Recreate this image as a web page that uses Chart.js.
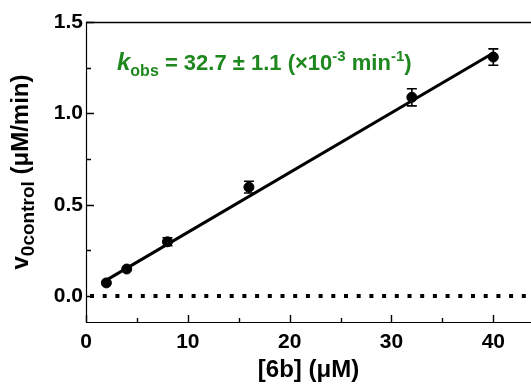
<!DOCTYPE html>
<html>
<head>
<meta charset="utf-8">
<script src="https://cdn.jsdelivr.net/npm/chart.js@4"></script>
<style>
html,body{margin:0;padding:0;background:#fff;}
#wrap{width:531px;height:389px;position:relative;}
</style>
</head>
<body>
<div id="wrap"><canvas id="c" width="531" height="389"></canvas></div>
<script>
// Data
const concentrations = [2, 4, 8, 16, 32, 40];          // [6b] (µM)
const rates = [0.072, 0.148, 0.297, 0.596, 1.088, 1.308]; // v0 control (µM/min)
const rateErrors = [0.012, 0.015, 0.022, 0.032, 0.047, 0.045];
const fitX = [2, 40];
const fitY = [0.087, 1.330];
const zeroLineX = [0, 43.7];
const zeroLineY = [0, 0];
const xTicks = [0, 10, 20, 30, 40];
const xMinorTicks = [5, 15, 25, 35];
const yTicks = [0.0, 0.5, 1.0, 1.5];
const yMinorTicks = [0.25, 0.75, 1.25];
const xTitle = "[6b] (μM)";
const yTitleMain = "v";
const yTitleSub = "0control";
const yTitleRest = " (μM/min)";

const FONT = '"Liberation Sans", Arial, sans-serif';
const GREEN = 'rgb(30,135,30)';

const annotPlugin = {
  id: 'annot',
  afterDatasetsDraw(chart) {
    const ctx = chart.ctx;
    const xs = chart.scales.x, ys = chart.scales.y;
    ctx.save();
    ctx.strokeStyle = '#000';
    ctx.lineWidth = 1.6;
    for (let i = 0; i < concentrations.length; i++) {
      const px = xs.getPixelForValue(concentrations[i]);
      const pt = ys.getPixelForValue(rates[i] + rateErrors[i]);
      const pb = ys.getPixelForValue(rates[i] - rateErrors[i]);
      ctx.beginPath();
      ctx.moveTo(px, pt); ctx.lineTo(px, pb);
      if (pb - pt > 7) {
        ctx.moveTo(px - 5, pt); ctx.lineTo(px + 5, pt);
        ctx.moveTo(px - 5, pb); ctx.lineTo(px + 5, pb);
      }
      ctx.stroke();
    }
    ctx.restore();
  },
  afterDraw(chart) {
    const ctx = chart.ctx;
    const xs = chart.scales.x, ys = chart.scales.y;
    const ca = chart.chartArea;
    ctx.save();
    ctx.strokeStyle = '#000';
    ctx.lineWidth = 1.2;
    ctx.beginPath();
    ctx.moveTo(ca.left + 0.5, ca.top); ctx.lineTo(ca.left + 0.5, ca.bottom + 0.5);
    ctx.lineTo(ca.right, ca.bottom + 0.5);
    ctx.stroke();
    ctx.lineWidth = 1.6;
    ctx.beginPath();
    ctx.moveTo(ca.left, ca.top + 0.5); ctx.lineTo(ca.right, ca.top + 0.5);
    ctx.stroke();
    ctx.lineWidth = 1.4;
    ctx.beginPath();
    xTicks.forEach(v => { const p = Math.round(xs.getPixelForValue(v)) + 0.5; ctx.moveTo(p, ca.bottom); ctx.lineTo(p, ca.bottom - 7); });
    xMinorTicks.forEach(v => { const p = Math.round(xs.getPixelForValue(v)) + 0.5; ctx.moveTo(p, ca.bottom); ctx.lineTo(p, ca.bottom - 4); });
    yTicks.forEach(v => { const p = Math.round(ys.getPixelForValue(v)) + 0.5; ctx.moveTo(ca.left, p); ctx.lineTo(ca.left + 8, p); });
    yMinorTicks.forEach(v => { const p = Math.round(ys.getPixelForValue(v)) + 0.5; ctx.moveTo(ca.left, p); ctx.lineTo(ca.left + 5, p); });
    ctx.stroke();

    // x title
    ctx.fillStyle = '#000';
    ctx.font = 'bold 24px ' + FONT;
    ctx.textAlign = 'center';
    ctx.textBaseline = 'alphabetic';
    ctx.fillText(xTitle, (ca.left + ca.right) / 2, 377);

    // y title (rotated with subscript)
    const big = 'bold 24px ' + FONT, small = 'bold 19px ' + FONT;
    ctx.font = big; const w1 = ctx.measureText(yTitleMain).width;
    ctx.font = small; const w2 = ctx.measureText(yTitleSub).width;
    ctx.font = big; const w3 = ctx.measureText(yTitleRest).width;
    const total = w1 + w2 + w3;
    ctx.translate(28, 172);
    ctx.rotate(-Math.PI / 2);
    ctx.textAlign = 'left';
    let x0 = -total / 2;
    ctx.font = big; ctx.fillText(yTitleMain, x0, 0); x0 += w1;
    ctx.font = small; ctx.fillText(yTitleSub, x0, 6); x0 += w2;
    ctx.font = big; ctx.fillText(yTitleRest, x0, 0);
    ctx.setTransform(1, 0, 0, 1, 0, 0);

    // annotation
    ctx.fillStyle = GREEN;
    const segs = [
      ['k', 'italic bold 24px ' + FONT, 0],
      ['obs', 'bold 16px ' + FONT, 6],
      [' = 32.7 ± 1.1 (×10', 'bold 22px ' + FONT, 0],
      ['-3', 'bold 15px ' + FONT, -9],
      [' min', 'bold 22px ' + FONT, 0],
      ['-1', 'bold 15px ' + FONT, -9],
      [')', 'bold 22px ' + FONT, 0]
    ];
    let ax = 117;
    const ay = 70;
    ctx.textAlign = 'left';
    segs.forEach(s => { ctx.font = s[1]; ctx.fillText(s[0], ax, ay + s[2]); ax += ctx.measureText(s[0]).width; });
    ctx.restore();
  }
};

new Chart(document.getElementById('c'), {
  type: 'scatter',
  data: {
    datasets: [
      {
        type: 'line',
        data: zeroLineX.map((x, i) => ({ x, y: zeroLineY[i] })),
        borderColor: '#000', borderWidth: 4, borderDash: [4, 8.7], borderDashOffset: 8.7,
        borderCapStyle: 'butt', pointRadius: 0, fill: false, order: 3
      },
      {
        type: 'line',
        data: fitX.map((x, i) => ({ x, y: fitY[i] })),
        borderColor: '#000', borderWidth: 3, pointRadius: 0, fill: false, order: 2
      },
      {
        data: concentrations.map((x, i) => ({ x, y: rates[i] })),
        backgroundColor: '#000', borderColor: '#000', pointRadius: 5, pointHoverRadius: 5, order: 1
      }
    ]
  },
  options: {
    responsive: false,
    animation: false,
    events: [],
    layout: { autoPadding: false, padding: { top: 22, right: 0, left: 0, bottom: 0 } },
    plugins: { legend: { display: false }, tooltip: { enabled: false } },
    scales: {
      x: {
        type: 'linear', min: 0, max: 43.7,
        grid: { display: false, drawTicks: false },
        border: { display: false },
        afterBuildTicks: s => { s.ticks = xTicks.map(v => ({ value: v })); },
        afterFit: s => { s.height = 67; s.paddingLeft = 0; s.paddingRight = 0; },
        ticks: { color: '#000', font: { family: FONT, size: 21, weight: 'bold' }, padding: 8, maxRotation: 0 }
      },
      y: {
        type: 'linear', min: -0.142, max: 1.5,
        grid: { display: false, drawTicks: false },
        border: { display: false },
        afterBuildTicks: s => { s.ticks = yTicks.map(v => ({ value: v })); },
        afterFit: s => { s.width = 86; s.paddingTop = 0; s.paddingBottom = 0; },
        ticks: { color: '#000', font: { family: FONT, size: 21, weight: 'bold' }, padding: 3,
          callback: v => v.toFixed(1) }
      }
    }
  },
  plugins: [annotPlugin]
});
</script>
</body>
</html>
